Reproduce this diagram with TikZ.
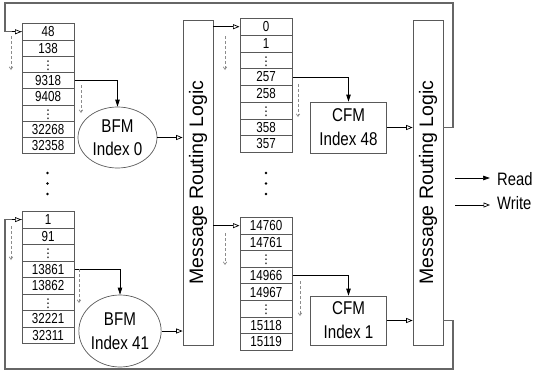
\documentclass[tikz,border=0pt]{standalone}
\usepackage{fontspec}
\setmainfont{Liberation Sans}
\newfontfamily\numfont[FakeStretch=0.8]{Liberation Sans}
\newfontfamily\lblfont[FakeStretch=0.82]{Liberation Sans}
\newfontfamily\symfont{DejaVu Sans}
\usetikzlibrary{arrows.meta,shapes.geometric,calc}
\definecolor{edgegray}{gray}{0.35}
\definecolor{fbgray}{gray}{0.4}
\definecolor{dashgray}{gray}{0.55}
\newcommand\vdd{{\symfont\fontsize{12}{12}\selectfont ⋮}}
\tikzset{
  cell/.style={draw=edgegray, line width=0.7pt, minimum width=52.5pt, inner sep=0pt,
    font=\numfont\fontsize{14.5}{14.5}\selectfont, text height=10pt, text depth=0pt},
  bfm/.style={ellipse, draw=edgegray, line width=0.7pt, inner sep=0pt, align=center,
    font=\lblfont\fontsize{18.5}{23.5}\selectfont},
  cfm/.style={rectangle, draw=edgegray, line width=0.7pt, inner sep=0pt, align=center,
    font=\lblfont\fontsize{18.5}{24}\selectfont},
  router/.style={rectangle, draw=edgegray, line width=0.7pt, rotate=90, inner sep=0pt,
    minimum width=325pt, minimum height=30pt, font=\fontsize{19.5}{20}\selectfont},
  readarrow/.style={draw=black, line width=0.7pt, -{Triangle[length=7pt,width=4.5pt]}},
  writearrow/.style={draw=black, line width=0.7pt, -{Triangle[open,length=6.5pt,width=5pt,fill=white]}},
  fbline/.style={draw=fbgray, line width=1.3pt},
  fbarrow/.style={draw=black, line width=0.7pt, -{Triangle[open,length=6.5pt,width=5pt,fill=white]}},
  seqarrow/.style={draw=dashgray, line width=0.7pt, dash pattern=on 3pt off 2pt, -{Straight Barb[length=2.5pt,width=3.5pt]}},
  legend/.style={font=\lblfont\fontsize{18}{20}\selectfont, anchor=west, inner sep=0pt}
}
\newcommand\memtable[5]{%
  \foreach \lab [count=\i] in {#5} {
    \node[cell, minimum height=#4pt, anchor=north west] (#1\i) at (#2, {#3+(\i-1)*#4}) {\lab};
  }}
\begin{document}
\begin{tikzpicture}[x=1pt, y=-1pt]
\useasboundingbox (0,0) rectangle (538,372);

% tables
\memtable{A}{21.5}{23.3}{16.25}{48,138,\vdd,9318,9408,\vdd,32268,32358}
\memtable{B}{21.5}{211}{16.5}{1,91,\vdd,13861,13862,\vdd,32221,32311}
\memtable{C}{239.5}{18}{16.75}{0,1,\vdd,257,258,\vdd,358,357}
\memtable{D}{239.5}{217}{16.6}{14760,14761,\vdd,14966,14967,\vdd,15118,15119}

% BFM ellipses
\node[bfm, minimum width=79pt, minimum height=61pt] (e1) at (117.5,137.5) {BFM\\Index 0};
\node[bfm, minimum width=80pt, minimum height=72pt] (e2) at (120,331) {BFM\\Index 41};

% routers
\node[router] (r1) at (198,182.5) {Message Routing Logic};
\node[router] (r2) at (428,182.5) {Message Routing Logic};

% CFM boxes
\node[cfm, minimum width=76pt, minimum height=51pt] (c1) at (348.5,127.5) {CFM\\Index 48};
\node[cfm, minimum width=76pt, minimum height=49pt] (c2) at (348.5,320.5) {CFM\\Index 1};

% read arrows
\draw[readarrow] (A4.east) -| (e1.north);
\draw[readarrow] (B4.east) -| (e2.north);
\draw[readarrow] (C4.east) -| (c1.north);
\draw[readarrow] (D4.east) -| (c2.north);

% write arrows
\draw[writearrow] (e1.east) -- (e1.east -| r1.north);
\draw[writearrow] (e2.east) -- (e2.east -| r1.north);
\draw[writearrow] (C1.west -| r1.south) -- (C1.west);
\draw[writearrow] (D1.west -| r1.south) -- (D1.west);
\draw[writearrow] (c1.east) -- (c1.east -| r2.north);
\draw[writearrow] (c2.east) -- (c2.east -| r2.north);

% feedback loops
\coordinate (fbTR) at (453,3);
\coordinate (fbTL) at (5,3);
\coordinate (fbBR) at (453,369);
\coordinate (fbBL) at (5,369);
\draw[fbline] (c1.east -| r2.south) -| (fbTR) -- (fbTL) |- (A1.west);
\draw[fbarrow] ($(A1.west)+(-10,0)$) -- (A1.west);
\draw[fbline] (c2.east -| r2.south) -| (fbBR) -- (fbBL) |- (B1.west);
\draw[fbarrow] ($(B1.west)+(-10,0)$) -- (B1.west);

% sequential scan arrows
\draw[seqarrow] (11,36) -- (11,70);
\draw[seqarrow] (81,85) -- (81,113);
\draw[seqarrow] (11,226) -- (11,260);
\draw[seqarrow] (79,269) -- (79,303);
\draw[seqarrow] (225,36) -- (225,70);
\draw[seqarrow] (298,84) -- (298,117);
\draw[seqarrow] (225,233) -- (225,265);
\draw[seqarrow] (300,281) -- (300,316);

% ellipsis dots
\foreach \yy in {173,183.5,194} {
  \fill (47.5,\yy) circle[radius=1.4pt];
  \fill (266,\yy) circle[radius=1.4pt];
}

% legend
\coordinate (lr1) at (455,178);
\coordinate (lr2) at (490,178);
\coordinate (lw1) at (455,205);
\coordinate (lw2) at (490,205);
\draw[readarrow] (lr1) -- (lr2);
\draw[writearrow] (lw1) -- (lw2);
\node[legend] (lread) at (497,179) {Read};
\node[legend] (lwrite) at (497,203) {Write};
\end{tikzpicture}
\end{document}
